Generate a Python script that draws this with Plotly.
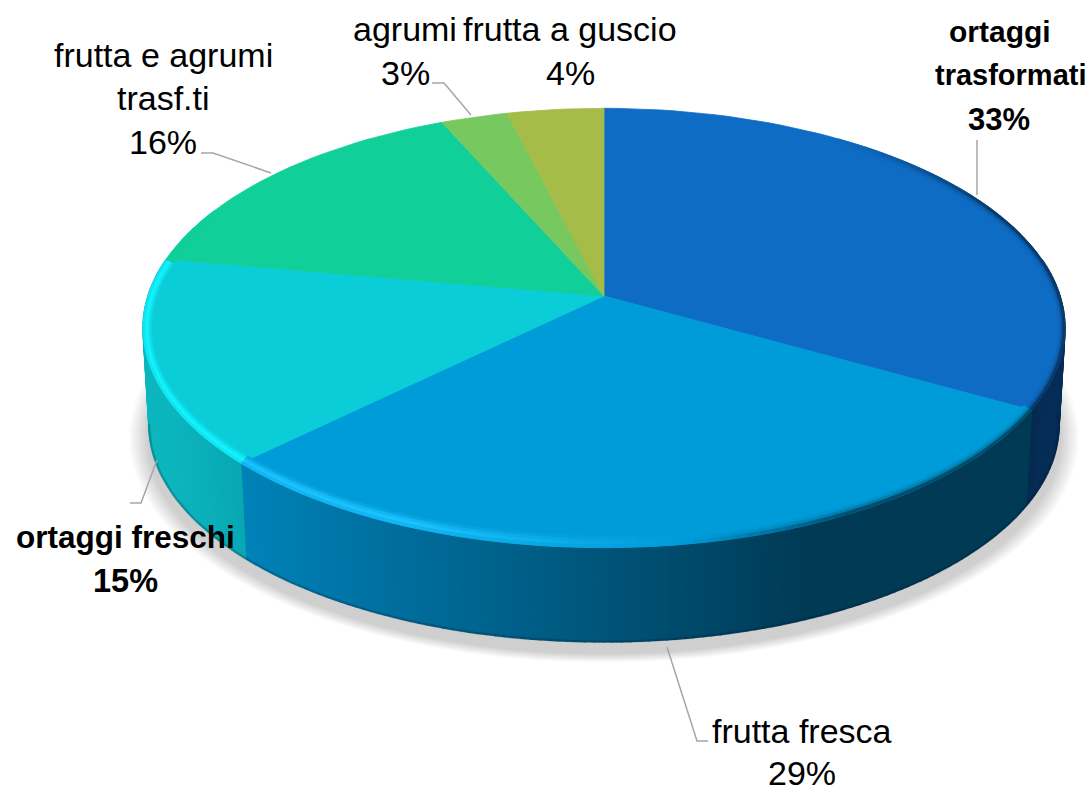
import math
import plotly.graph_objects as go

# ---- data (clockwise from 12 o'clock) ----
SLICE_NAMES = ["ortaggi trasformati", "frutta fresca", "ortaggi freschi",
               "frutta e agrumi trasf.ti", "agrumi", "frutta a guscio"]
SLICE_VALUES = [33.2, 29.5, 15.1, 15.6, 2.7, 3.9]
TOP_COLORS = ["#0F6CC4", "#009CD9", "#0ACDD8", "#10CF98", "#78C860", "#A6BC48"]
SIDE_LEFT = ["#062A52", "#0082B8", "#0CB6BE", "#0CA078", "#5A9A48", "#7F9038"]
SIDE_RIGHT = ["#062D55", "#003A55", "#08A8B3", "#0CA078", "#5A9A48", "#7F9038"]

# ---- label text, one entry per line: text, centre x, centre y, bold, size ----
LABEL_LINES = [
    ("ortaggi", 1000, 31, True, 30), ("trasformati", 1011, 75, True, 29), ("33%", 999, 119, True, 31),
    ("frutta fresca", 802, 731, False, 34), ("29%", 802, 773, False, 34),
    ("ortaggi freschi", 125, 537, True, 31.5), ("15%", 125, 581, True, 32.5),
    ("frutta e agrumi", 163, 55, False, 34), ("trasf.ti", 163, 98, False, 34), ("16%", 163, 142, False, 34),
    ("agrumi", 405, 29, False, 34), ("3%", 405, 73, False, 34),
    ("frutta a guscio", 570, 29, False, 34), ("4%", 570, 73, False, 34),
]
LEADERS = [
    ([977, 977], [140, 195]),
    ([667, 697, 708], [647, 741, 741]),
    ([157, 141, 130], [460, 503, 503]),
    ([201, 213, 271], [153, 153, 173]),
    ([432, 444, 471], [83, 83, 115]),
]

# ---- projection of the tilted disc ----
CX, CY = 604, 296
A, B, K = 456, 215, 0.1455
RIM_CY = 328
BOTTOM_CY, BOTTOM_SCALE = 425, 0.987
FONT = "Liberation Sans, Arial, sans-serif"


def rim(theta, inset=0.0):
    """Rim point; inset 0 is the outer edge, 1 the inner edge of the bevel."""
    u, v = math.sin(theta), math.cos(theta)
    w = 1 + K * v
    x = CX + A * u / w
    y = CY - B * v / w
    return CX + (x - CX) * (1 - 0.018 * inset), RIM_CY + (y - RIM_CY) * (1 - 0.055 * inset)


def bottom(theta):
    x, y = rim(theta)
    return CX + (x - CX) * BOTTOM_SCALE, BOTTOM_CY + (y - RIM_CY) * BOTTOM_SCALE


def hex2rgb(c):
    return tuple(int(c[i:i + 2], 16) for i in (1, 3, 5))


def mix(c1, c2, t):
    t = max(0.0, min(1.0, t))
    a, b = hex2rgb(c1), hex2rgb(c2)
    return "rgb(%d,%d,%d)" % tuple(round(a[i] + (b[i] - a[i]) * t) for i in range(3))


fig = go.Figure()


def poly(xs, ys, color, edge=True, width=0.8):
    fig.add_trace(go.Scatter(
        x=xs + xs[:1], y=ys + ys[:1], mode="lines", fill="toself", fillcolor=color,
        line=dict(color=color if edge else "rgba(0,0,0,0)", width=width if edge else 0),
        hoverinfo="skip", showlegend=False))


# soft shadow below the disc
for i in range(12):
    s = 1.035 - i * 0.0035
    xs, ys = [], []
    for d in range(0, 360, 4):
        t = math.radians(d)
        xs.append(CX + 459 * s * math.sin(t))
        ys.append(438 - 217 * s * math.cos(t))
    poly(xs, ys, "rgba(0,0,0,0.015)", edge=False)

# angular extent of each slice
total = sum(SLICE_VALUES)
edges = [0.0]
for val in SLICE_VALUES:
    edges.append(edges[-1] + val / total * 2 * math.pi)


def steps(a0, a1, step_deg):
    n = max(1, int(math.ceil((a1 - a0) / math.radians(step_deg))))
    return [a0 + (a1 - a0) * i / n for i in range(n + 1)]


# side wall (only the part that faces the viewer)
for i in range(len(SLICE_VALUES)):
    a0, a1 = edges[i], edges[i + 1]
    a0 = max(a0, math.radians(80))
    a1 = min(a1, math.radians(280))
    if a1 <= a0:
        continue
    ts = steps(a0, a1, 1.0)
    xa, xb = rim(ts[-1])[0], rim(ts[0])[0]
    for p, q in zip(ts[:-1], ts[1:]):
        x1, y1 = rim(p)
        x2, y2 = rim(q)
        x3, y3 = bottom(q)
        x4, y4 = bottom(p)
        f = (0.5 * (x1 + x2) - xa) / max(1.0, xb - xa)
        if i == 1:  # the long front wall darkens quickly then levels off
            f = min(1.0, f / 0.72)
        poly([x1, x2, x3, x4], [y1, y2, y3, y4], mix(SIDE_LEFT[i], SIDE_RIGHT[i], f), width=1.6)

# darker line along the foot of the wall
foot = [bottom(t) for t in steps(math.radians(95), math.radians(262), 2)]
fig.add_trace(go.Scatter(x=[p[0] for p in foot], y=[p[1] for p in foot], mode="lines",
                         line=dict(color="rgba(0,20,40,0.22)", width=2.5),
                         hoverinfo="skip", showlegend=False))

# top faces
for i in range(len(SLICE_VALUES)):
    pts = [rim(t) for t in steps(edges[i], edges[i + 1], 2)]
    poly([CX] + [p[0] for p in pts], [CY] + [p[1] for p in pts], TOP_COLORS[i])

# bevel along the front rim: bright at the left, dark at the right
HIGHLIGHT = ["#0F6CC4", "#1CC4FF", "#14F4FF", "#10CF98", "#78C860", "#A6BC48"]
BANDS = [(1.0, 0.75, 0.25, 0.0), (0.75, 0.5, 0.7, 0.08), (0.5, 0.25, 1.0, 0.3), (0.25, 0.0, 0.65, 0.8)]
for i in range(len(SLICE_VALUES)):
    a0, a1 = edges[i], edges[i + 1]
    a0 = max(a0, math.radians(35))
    a1 = min(a1, math.radians(295))
    if a1 <= a0:
        continue
    ts = steps(a0, a1, 1.5)
    for s0, s1, lit, shade in BANDS:
        for p, q in zip(ts[:-1], ts[1:]):
            deg = math.degrees(0.5 * (p + q))
            x1, y1 = rim(p, s0)
            x2, y2 = rim(q, s0)
            x3, y3 = rim(q, s1)
            x4, y4 = rim(p, s1)
            if deg > 172:  # lit part
                fade = min(1.0, (deg - 172) / 30) * min(1.0, (295 - deg) / 15)
                col = mix(TOP_COLORS[i], HIGHLIGHT[i], lit * fade)
            else:  # shaded part
                fade = min(1.0, (deg - 35) / 30) * min(1.0, (172 - deg) / 20)
                col = mix(TOP_COLORS[i], SIDE_RIGHT[i], shade * fade)
            poly([x1, x2, x3, x4], [y1, y2, y3, y4], col)

# leader lines
for lx, ly in LEADERS:
    fig.add_trace(go.Scatter(x=lx, y=ly, mode="lines", hoverinfo="skip", showlegend=False,
                             line=dict(color="#A6A6A6", width=1.5)))

# labels
for text, x, y, bold, size in LABEL_LINES:
    fig.add_annotation(x=x, y=y, xref="x", yref="y", showarrow=False,
                       text=f"<b>{text}</b>" if bold else text,
                       xanchor="center", yanchor="middle",
                       font=dict(family=FONT, size=size, color="#000000"))

fig.update_layout(
    width=1089, height=791, margin=dict(l=0, r=0, t=0, b=0),
    paper_bgcolor="#FFFFFF", plot_bgcolor="#FFFFFF", showlegend=False,
    xaxis=dict(range=[0, 1089], visible=False),
    yaxis=dict(range=[791, 0], visible=False),
)
fig.write_html("out.html", post_script="document.body.style.margin='0';",
               config={"displayModeBar": False})
